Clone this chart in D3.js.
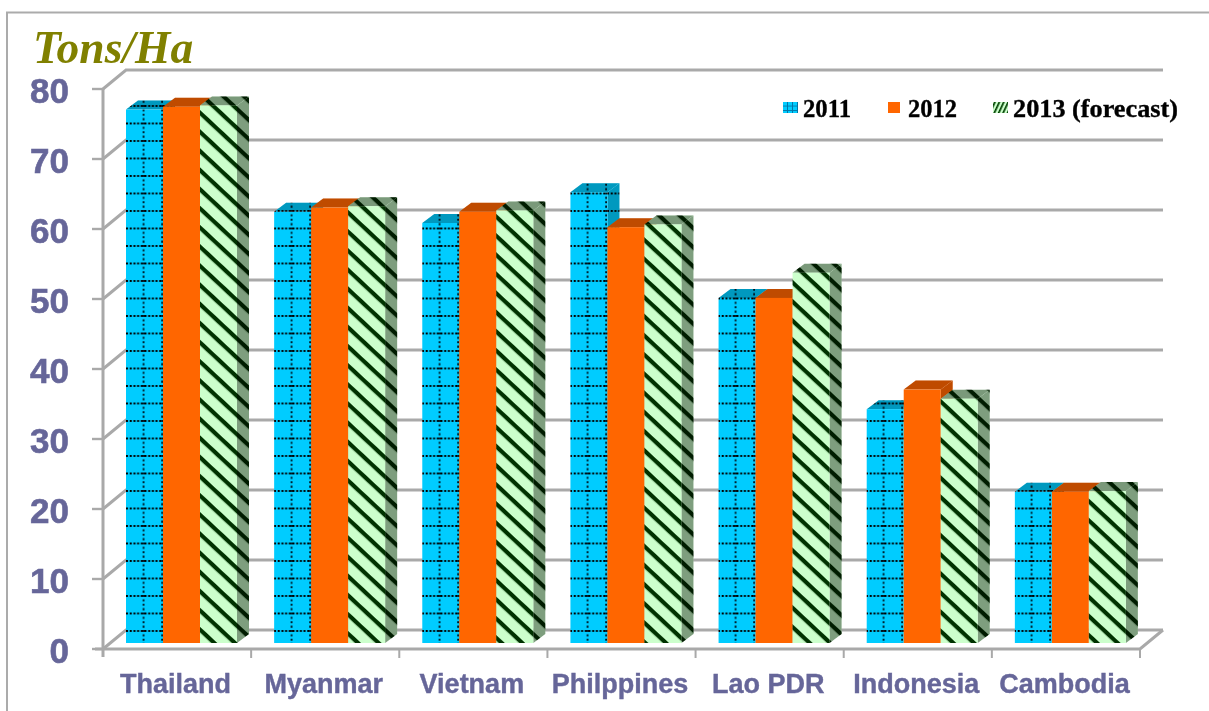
<!DOCTYPE html>
<html>
<head>
<meta charset="utf-8">
<script src="https://cdn.jsdelivr.net/npm/d3@7/dist/d3.min.js"></script>
<style>
html,body{margin:0;padding:0;background:#fff;overflow:hidden}
svg{display:block}
</style>
</head>
<body>
<svg id="chart" width="1209" height="711"></svg>
<script>
const categories = ["Thailand","Myanmar","Vietnam","Philppines","Lao PDR","Indonesia","Cambodia"];
const seriesNames = ["2011","2012","2013 (forecast)"];
const values2011 = [76.2,61.6,60.0,64.4,49.3,33.4,21.6];
const values2012 = [76.6,62.2,61.6,59.4,49.3,36.2,21.6];
const values2013 = [76.8,62.4,61.8,59.8,52.9,34.9,21.7];
const yTicks = [0,10,20,30,40,50,60,70,80];
const title = "Tons/Ha";

const seriesValues = [values2011, values2012, values2013];
const W = 1209, H = 711;
const frontL = 103, frontR = 1140, y0 = 649, y80 = 89;
const depthX = 23, depthY = -19;         // wall depth
const barDX = 12, barDY = -9, barLift = 6; // bar depth
const gridColor = "#a9a9a9";
const labelColor = "#666699";

const svg = d3.select("#chart");
const defs = svg.append("defs");

const f1 = defs.append("filter").attr("id","soft").attr("x","-5%").attr("y","-5%").attr("width","110%").attr("height","110%");
f1.append("feGaussianBlur").attr("stdDeviation",0.7);
const f2 = defs.append("filter").attr("id","softText").attr("x","-5%").attr("y","-5%").attr("width","110%").attr("height","110%");
f2.append("feGaussianBlur").attr("stdDeviation",0.4);

const y = d3.scaleLinear().domain([0,80]).range([y0,y80]);
const x = d3.scaleBand().domain(categories).range([frontL,frontR]).paddingInner(0).paddingOuter(0);
const xIn = d3.scaleBand().domain(d3.range(3)).range([23,134]);
const bw = xIn.bandwidth();

// patterns
const pBlue = defs.append("pattern").attr("id","pBlue").attr("patternUnits","userSpaceOnUse")
  .attr("x",x(categories[0])+xIn(0)).attr("y",0).attr("width",18.5).attr("height",17.5);
pBlue.append("rect").attr("width",18.5).attr("height",17.5).attr("fill","#00ccff");
pBlue.append("line").attr("x1",0).attr("x2",18.5).attr("y1",1).attr("y2",1)
  .attr("stroke","#000").attr("stroke-width",2).attr("stroke-dasharray","2 1.7");
pBlue.append("line").attr("x1",17.6).attr("x2",17.6).attr("y1",0).attr("y2",17.5)
  .attr("stroke","#00141f").attr("stroke-width",1.8).attr("stroke-dasharray","2 2.4");

const pGreen = defs.append("pattern").attr("id","pGreen").attr("patternUnits","userSpaceOnUse")
  .attr("width",14).attr("height",14).attr("patternTransform","rotate(43)");
pGreen.append("rect").attr("width",14).attr("height",14).attr("fill","#ccffcc");
pGreen.append("rect").attr("x",0).attr("y",0).attr("width",14).attr("height",4.2).attr("fill","#003300");

const pBlueLeg = defs.append("pattern").attr("id","pBlueLeg").attr("patternUnits","userSpaceOnUse")
  .attr("x",783).attr("y",102).attr("width",5).attr("height",4.5);
pBlueLeg.append("rect").attr("width",5).attr("height",4.5).attr("fill","#00ccff");
pBlueLeg.append("rect").attr("x",4).attr("width",1).attr("height",4.5).attr("fill","#0077aa");
pBlueLeg.append("rect").attr("y",3.6).attr("width",5).attr("height",0.9).attr("fill","#0077aa");

const pGreenLeg = defs.append("pattern").attr("id","pGreenLeg").attr("patternUnits","userSpaceOnUse")
  .attr("width",4).attr("height",4).attr("patternTransform","rotate(25)");
pGreenLeg.append("rect").attr("width",4).attr("height",4).attr("fill","#ccffcc");
pGreenLeg.append("rect").attr("width",1.7).attr("height",4).attr("fill","#004000");

const faceFill = ["url(#pBlue)","#ff6600","url(#pGreen)"];
const legFill = ["url(#pBlueLeg)","#ff6600","url(#pGreenLeg)"];

// outer frame
svg.append("path").attr("d",`M7,${H} V12.5 H${W}`).attr("fill","none")
  .attr("stroke","#ababab").attr("stroke-width",2);

// walls
const walls = svg.append("g").attr("filter","url(#soft)").attr("stroke",gridColor).attr("stroke-width",3).attr("fill","none");
yTicks.forEach(t => {
  const py = y(t);
  walls.append("path").attr("d",`M${frontL},${py} L${frontL+depthX},${py+depthY} H${frontR+depthX}`);
  walls.append("line").attr("x1",frontL-11).attr("x2",frontL).attr("y1",py).attr("y2",py).attr("stroke-width",2.4);
});
walls.append("line").attr("x1",frontL).attr("x2",frontL).attr("y1",y80).attr("y2",y0+8);
walls.append("path").attr("d",`M${frontL-8},${y0} H${frontR} L${frontR+depthX},${y0+depthY}`);
categories.forEach(c => {
  const tx = x(c)+x.bandwidth();
  walls.append("line").attr("x1",tx).attr("x2",tx).attr("y1",y0).attr("y2",y0+9).attr("stroke-width",2);
});

// bars
const bars = svg.append("g").attr("filter","url(#soft)");
categories.forEach((c,ci) => {
  seriesValues.forEach((vals,si) => {
    const l = x(c)+xIn(si), r = l+bw, t = y(vals[ci])-barLift, b = y(0)-barLift;
    const side = `M${r},${t} L${r+barDX},${t+barDY} V${b+barDY} L${r},${b} Z`;
    const top = `M${l},${t} L${l+barDX},${t+barDY} H${r+barDX} L${r},${t} Z`;
    const g = bars.append("g");
    g.append("path").attr("d",side).attr("fill",faceFill[si]);
    g.append("path").attr("d",side).attr("fill","#000").attr("fill-opacity",si===2?0.38:0.25);
    g.append("path").attr("d",top).attr("fill",faceFill[si]);
    g.append("path").attr("d",top).attr("fill","#000").attr("fill-opacity",si===2?0.4:0.25);
    g.append("rect").attr("x",l).attr("y",t).attr("width",bw).attr("height",b-t).attr("fill",faceFill[si]);
  });
});

// y axis labels
const yAxis = svg.append("g").attr("transform","translate(69,0)").attr("filter","url(#softText)")
  .call(d3.axisLeft(y).tickValues(yTicks).tickSize(0).tickPadding(0));
yAxis.select(".domain").remove();
yAxis.selectAll("text").attr("font-family","'Liberation Sans',Arial,sans-serif").attr("font-weight","bold")
  .attr("font-size",35).attr("fill",labelColor).attr("stroke",labelColor).attr("stroke-width",0.6).attr("dy","0.38em");

// x axis labels
const xAxis = svg.append("g").attr("transform","translate(-1.5,693)").attr("filter","url(#softText)")
  .call(d3.axisBottom(x).tickSize(0).tickPadding(0));
xAxis.select(".domain").remove();
xAxis.selectAll("text").attr("font-family","'Liberation Sans',Arial,sans-serif").attr("font-weight","bold")
  .attr("font-size",27).attr("fill",labelColor).attr("stroke",labelColor).attr("stroke-width",0.4).attr("y",0).attr("dy",0);

// title
svg.append("text").attr("x",33).attr("y",63).text(title).attr("filter","url(#softText)")
  .attr("font-family","'Liberation Serif',serif").attr("font-weight","bold").attr("font-style","italic")
  .attr("font-size",45.5).attr("fill","#808000");

// legend
const legX = [783,888,993], legW = [15,12,15], legT = [803,908,1013], legLen = [48,49,165];
seriesNames.forEach((n,i) => {
  svg.append("rect").attr("x",legX[i]).attr("y",102).attr("width",legW[i]).attr("height",11).attr("fill",legFill[i]);
  svg.append("text").attr("x",legT[i]).attr("y",117).text(n).attr("filter","url(#softText)")
    .attr("font-family","'Liberation Serif',serif").attr("font-weight","bold")
    .attr("font-size",25).attr("fill","#000").attr("stroke","#000").attr("stroke-width",0.35)
    .attr("textLength",legLen[i]).attr("lengthAdjust","spacingAndGlyphs");
});
</script>
</body>
</html>
